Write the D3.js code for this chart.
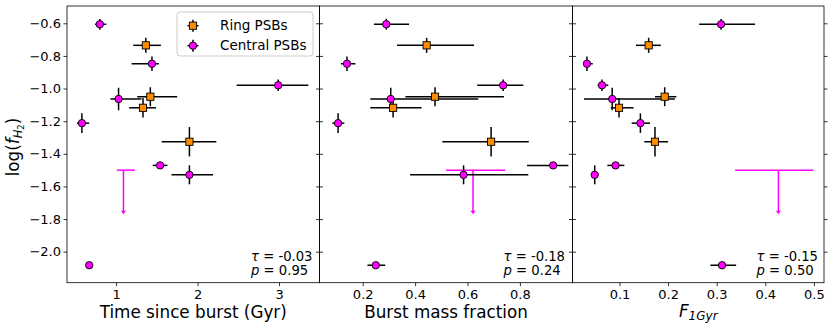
<!DOCTYPE html>
<html><head><meta charset="utf-8">
<script src="https://cdn.jsdelivr.net/npm/d3@7"></script>
<style>body{margin:0;background:#fff}svg{display:block;font-family:"DejaVu Sans",sans-serif}</style>
</head><body><svg id="c" width="831" height="330"></svg>
<script>
// shared y values (log f_H2), errors and type
const yVals = [-0.606,-0.735,-0.848,-0.98,-1.05,-1.064,-1.118,-1.212,-1.326,-1.471,-1.529,-2.083];
const yErr  = [0.033,0.046,0.045,0.035,0.058,0.069,0.06,0.06,0.09,0.02,0.058,0.02];
const kind  = ["C","R","C","C","R","C","R","C","R","C","C","C"];
// panel 1: time since burst
const timeX  = [0.80,1.365,1.44,2.99,1.42,1.03,1.33,0.58,1.90,1.54,1.90,0.67];
const timeLo = [0.74,1.21,1.19,2.48,1.26,0.93,1.16,0.52,1.56,1.45,1.68,0.65];
const timeHi = [0.88,1.55,1.525,3.36,1.75,1.31,1.49,0.67,2.23,1.63,2.19,0.69];
// panel 2: burst mass fraction
const massX  = [0.290,0.444,0.140,0.736,0.476,0.307,0.316,0.106,0.690,0.927,0.585,0.250];
const massLo = [0.243,0.331,0.117,0.637,0.363,0.229,0.229,0.084,0.504,0.827,0.381,0.218];
const massHi = [0.377,0.625,0.172,0.813,0.739,0.641,0.425,0.130,0.834,0.985,0.832,0.286];
// panel 3: F_1Gyr
const fX  = [0.309,0.160,0.033,0.064,0.193,0.085,0.099,0.143,0.173,0.092,0.049,0.311];
const fLo = [0.264,0.134,0.026,0.055,0.173,0.027,0.082,0.125,0.151,0.075,0.047,0.287];
const fHi = [0.379,0.185,0.045,0.077,0.217,0.214,0.129,0.163,0.200,0.110,0.051,0.340];
// upper limits (central PSB) per panel
const limY = -1.50, limArrowTo = -1.77;
const limX  = [1.09,0.621,0.427];
const limLo = [1.01,0.518,0.338];
const limHi = [1.23,0.744,0.499];
// stats
const tauVals = ["-0.03","-0.18","-0.15"];
const pVals   = ["0.95","0.24","0.50"];
const xTicks = [[1,2,3],[0.2,0.4,0.6,0.8],[0.1,0.2,0.3,0.4,0.5]];
const yTicks = [-2.0,-1.8,-1.6,-1.4,-1.2,-1.0,-0.8,-0.6];
const xDomains = [[0.397,3.497],[0.0351,1.0007],[0.0033,0.5208]];
const panelEdges = [[67,319.5],[319.5,572.5],[572.5,824]];
const xLabels = ["Time since burst (Gyr)","Burst mass fraction",null];

const svg = d3.select("#c");
const yTop = 6, yBottom = 282.7;
const y = d3.scaleLinear().domain([-2.19,-0.494]).range([yBottom, yTop]);
const ORANGE = "#ff8c00", MAG = "#ff00ff";

const panels = [
  {x: timeX, lo: timeLo, hi: timeHi},
  {x: massX, lo: massLo, hi: massHi},
  {x: fX, lo: fLo, hi: fHi}
];

panels.forEach((p, i) => {
  const [l, r] = panelEdges[i];
  const x = d3.scaleLinear().domain(xDomains[i]).range([l, r]);
  const g = svg.append("g");
  // x axis
  const xa = g.append("g").attr("transform", `translate(0,${yBottom})`)
    .call(d3.axisBottom(x).tickValues(xTicks[i]).tickSize(3.5).tickPadding(3.5).tickSizeOuter(0)
      .tickFormat(i === 0 ? d3.format("d") : d3.format(".1f")));
  xa.select(".domain").remove();
  xa.selectAll("line").attr("stroke", "#000").attr("stroke-width", 0.8);
  xa.selectAll("text").attr("font-size", 13).attr("font-family", "DejaVu Sans").attr("fill", "#000");
  // y ticks left
  const ya = g.append("g").attr("transform", `translate(${l},0)`)
    .call(d3.axisLeft(y).tickValues(yTicks).tickSize(3.5).tickPadding(2.5).tickSizeOuter(0)
      .tickFormat(i === 0 ? d3.format(".1f") : () => ""));
  ya.select(".domain").remove();
  ya.selectAll("line").attr("stroke", "#000").attr("stroke-width", 0.8);
  ya.selectAll("text").attr("font-size", 13).attr("font-family", "DejaVu Sans").attr("fill", "#000");
  // y ticks right
  const yr = g.append("g").attr("transform", `translate(${r},0)`)
    .call(d3.axisRight(y).tickValues(yTicks).tickSize(3.5).tickSizeOuter(0).tickFormat(() => ""));
  yr.select(".domain").remove();
  yr.selectAll("line").attr("stroke", "#000").attr("stroke-width", 0.8);

  // upper limit
  const lg = g.append("g");
  lg.append("line").attr("x1", x(limLo[i])).attr("x2", x(limHi[i])).attr("y1", y(limY)).attr("y2", y(limY))
    .attr("stroke", MAG).attr("stroke-width", 1.5);
  lg.append("line").attr("x1", x(limX[i])).attr("x2", x(limX[i])).attr("y1", y(limY)).attr("y2", y(limArrowTo) - 2)
    .attr("stroke", MAG).attr("stroke-width", 1.5);
  const ax = x(limX[i]), ay = y(limArrowTo);
  lg.append("path").attr("d", `M${ax-2.5},${ay-3.5}L${ax+2.5},${ay-3.5}L${ax},${ay}Z`).attr("fill", MAG);

  // error bars
  const eb = g.append("g").attr("stroke", "#000").attr("stroke-width", 1.5);
  yVals.forEach((v, k) => {
    eb.append("line").attr("x1", x(p.lo[k])).attr("x2", x(p.hi[k])).attr("y1", y(v)).attr("y2", y(v));
    eb.append("line").attr("x1", x(p.x[k])).attr("x2", x(p.x[k])).attr("y1", y(v - yErr[k])).attr("y2", y(v + yErr[k]));
  });
  // markers
  const mg = g.append("g").attr("stroke", "#000").attr("stroke-width", 0.9);
  yVals.forEach((v, k) => {
    if (kind[k] === "R") {
      mg.append("rect").attr("x", x(p.x[k]) - 3.6).attr("y", y(v) - 3.6).attr("width", 7.2).attr("height", 7.2).attr("fill", ORANGE);
    } else {
      mg.append("circle").attr("cx", x(p.x[k])).attr("cy", y(v)).attr("r", 3.7).attr("fill", MAG);
    }
  });

  // frame
  g.append("rect").attr("x", l).attr("y", yTop).attr("width", r - l).attr("height", yBottom - yTop)
    .attr("fill", "none").attr("stroke", "#000").attr("stroke-width", 0.8);

  // stats text
  const t1 = g.append("text").attr("x", l + 184).attr("y", 260.5).attr("font-size", 13.2);
  t1.append("tspan").attr("font-style", "italic").text("τ");
  t1.append("tspan").text(" = " + tauVals[i]);
  const t2 = g.append("text").attr("x", l + 184).attr("y", 275).attr("font-size", 13.2);
  t2.append("tspan").attr("font-style", "italic").text("p");
  t2.append("tspan").text(" = " + pVals[i]);

  // x label
  if (xLabels[i]) {
    g.append("text").attr("x", (l + r) / 2).attr("y", 318).attr("text-anchor", "middle").attr("font-size", 16.8).text(xLabels[i]);
  } else {
    const t = g.append("text").attr("x", (l + r) / 2).attr("y", 317).attr("text-anchor", "middle").attr("font-size", 16.8);
    t.append("tspan").attr("font-style", "italic").text("F");
    t.append("tspan").attr("font-style", "italic").attr("font-size", 12).attr("dy", 3).text("1Gyr");
  }
});

// y label
const yl = svg.append("text").attr("transform", "translate(19,147) rotate(-90)").attr("text-anchor", "middle").attr("font-size", 16.8);
yl.append("tspan").text("log(");
yl.append("tspan").attr("font-style", "italic").text("f");
yl.append("tspan").attr("font-style", "italic").attr("font-size", 11.5).attr("dy", 3).text("H");
yl.append("tspan").attr("font-size", 8.5).attr("dy", 2).text("2");
yl.append("tspan").attr("dy", -5).text(")");

// legend
const leg = svg.append("g");
leg.append("rect").attr("x", 177).attr("y", 12).attr("width", 136).attr("height", 44).attr("rx", 3)
  .attr("fill", "#fff").attr("fill-opacity", 0.8).attr("stroke", "#ccc").attr("stroke-width", 1);
const legItems = [{label: "Ring PSBs", k: "R", cy: 25.7}, {label: "Central PSBs", k: "C", cy: 45.7}];
legItems.forEach(it => {
  const cx = 193;
  leg.append("line").attr("x1", cx - 5.5).attr("x2", cx + 5.5).attr("y1", it.cy).attr("y2", it.cy).attr("stroke", "#000").attr("stroke-width", 1.5);
  leg.append("line").attr("x1", cx).attr("x2", cx).attr("y1", it.cy - 6).attr("y2", it.cy + 6).attr("stroke", "#000").attr("stroke-width", 1.5);
  if (it.k === "R") leg.append("rect").attr("x", cx - 3.6).attr("y", it.cy - 3.6).attr("width", 7.2).attr("height", 7.2).attr("fill", ORANGE).attr("stroke", "#000").attr("stroke-width", 0.9);
  else leg.append("circle").attr("cx", cx).attr("cy", it.cy).attr("r", 3.7).attr("fill", MAG).attr("stroke", "#000").attr("stroke-width", 0.9);
  leg.append("text").attr("x", 220).attr("y", it.cy + 4.5).attr("font-size", 13.5).text(it.label);
});
</script></body></html>
